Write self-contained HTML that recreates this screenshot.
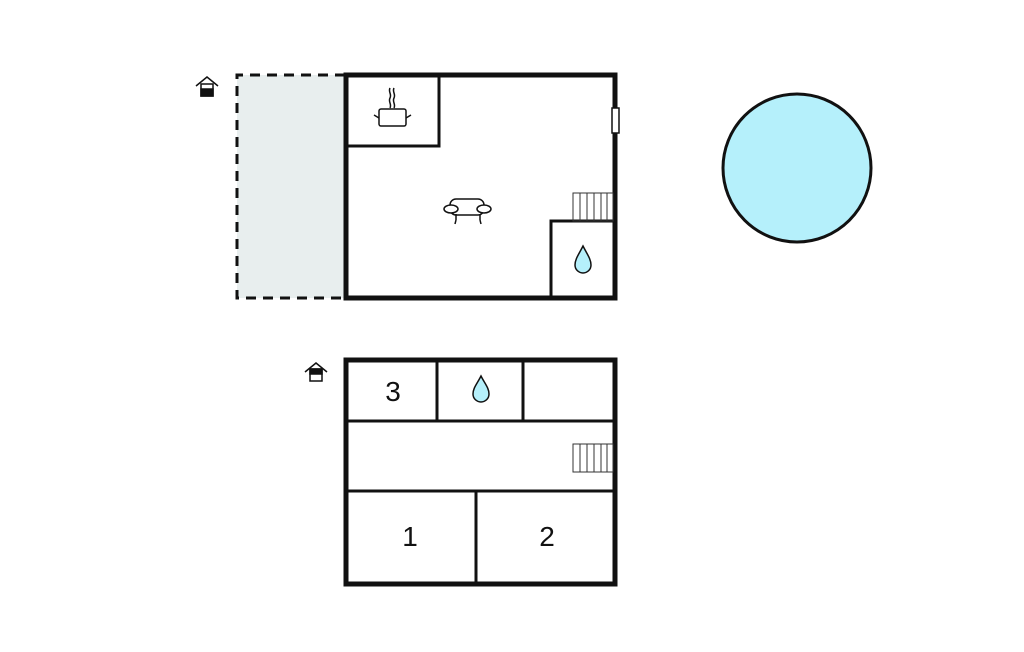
<!DOCTYPE html>
<html><head><style>body{margin:0;background:#fff}svg{display:block}</style></head><body>
<svg width="1024" height="652" viewBox="0 0 1024 652" xmlns="http://www.w3.org/2000/svg" font-family="Liberation Sans, sans-serif">
<!-- terrace -->
<rect x="237" y="75" width="108" height="223" fill="#e8eeee"/>
<path d="M345 75 H237 V298 H345" fill="none" stroke="#111" stroke-width="3" stroke-dasharray="10,7"/>
<!-- top plan -->
<rect x="346" y="75" width="269" height="223" fill="none" stroke="#111" stroke-width="5"/>
<path d="M346 146 H439 V75" fill="none" stroke="#111" stroke-width="3"/>
<path d="M551 298 V221 H615" fill="none" stroke="#111" stroke-width="3"/>
<g stroke="#333" stroke-width="1" fill="none"><rect x="573" y="193" width="40" height="28"/>
<path d="M580 193V221M587 193V221M594 193V221M601 193V221M607 193V221"/></g>
<rect x="612" y="108" width="7" height="25" fill="#fff" stroke="#111" stroke-width="1.5"/>
<!-- pot -->
<g stroke="#111" stroke-width="1.5" fill="none"><rect x="379" y="109" width="27" height="17" rx="2"/>
<path d="M374 115l5 3M411 115l-5 3M390 88c-2 4 2 6 0 10s2 6 0 10M394 88c-2 4 2 6 0 10s2 6 0 10"/></g>
<!-- sofa -->
<g stroke="#111" stroke-width="1.5" fill="#fff"><rect x="450" y="199" width="34" height="16" rx="6"/>
<ellipse cx="451" cy="209" rx="7" ry="4"/><ellipse cx="484" cy="209" rx="7" ry="4"/>
<path d="M456 214v6M480 214v6M456 220l-1 4M480 220l1 4"/></g>
<path d="M583 246c-4 8-8 13-8 19a8 8 0 0 0 16 0c0-6-4-11-8-19z" fill="#b5f0fb" stroke="#111" stroke-width="1.5"/>
<!-- house icons -->
<g stroke="#111" stroke-width="1.5" fill="#fff"><path d="M196 86l11-9 11 9"/><rect x="201" y="84" width="12" height="12"/><rect x="201" y="89" width="12" height="7" fill="#111"/></g>
<g stroke="#111" stroke-width="1.5" fill="#fff"><path d="M305 372l11-9 11 9"/><rect x="310" y="369" width="12" height="12"/><rect x="310" y="369" width="12" height="5" fill="#111"/></g>
<!-- pool -->
<circle cx="797" cy="168" r="74" fill="#b5f0fb" stroke="#111" stroke-width="3"/>
<!-- bottom plan -->
<rect x="346" y="360" width="269" height="224" fill="none" stroke="#111" stroke-width="5"/>
<path d="M346 421H615M346 491H615M437 360V421M523 360V421M476 491V584" fill="none" stroke="#111" stroke-width="3"/>
<g stroke="#333" stroke-width="1" fill="none"><rect x="573" y="444" width="40" height="28"/>
<path d="M580 444V472M587 444V472M594 444V472M601 444V472M607 444V472"/></g>
<path d="M481 376c-4 8-8 12-8 18a8 8 0 0 0 16 0c0-6-4-10-8-18z" fill="#b5f0fb" stroke="#111" stroke-width="1.5"/>
<g font-size="28" fill="#111" text-anchor="middle"><text x="393" y="401">3</text><text x="410" y="546">1</text><text x="547" y="546">2</text></g>
</svg>
</body></html>
